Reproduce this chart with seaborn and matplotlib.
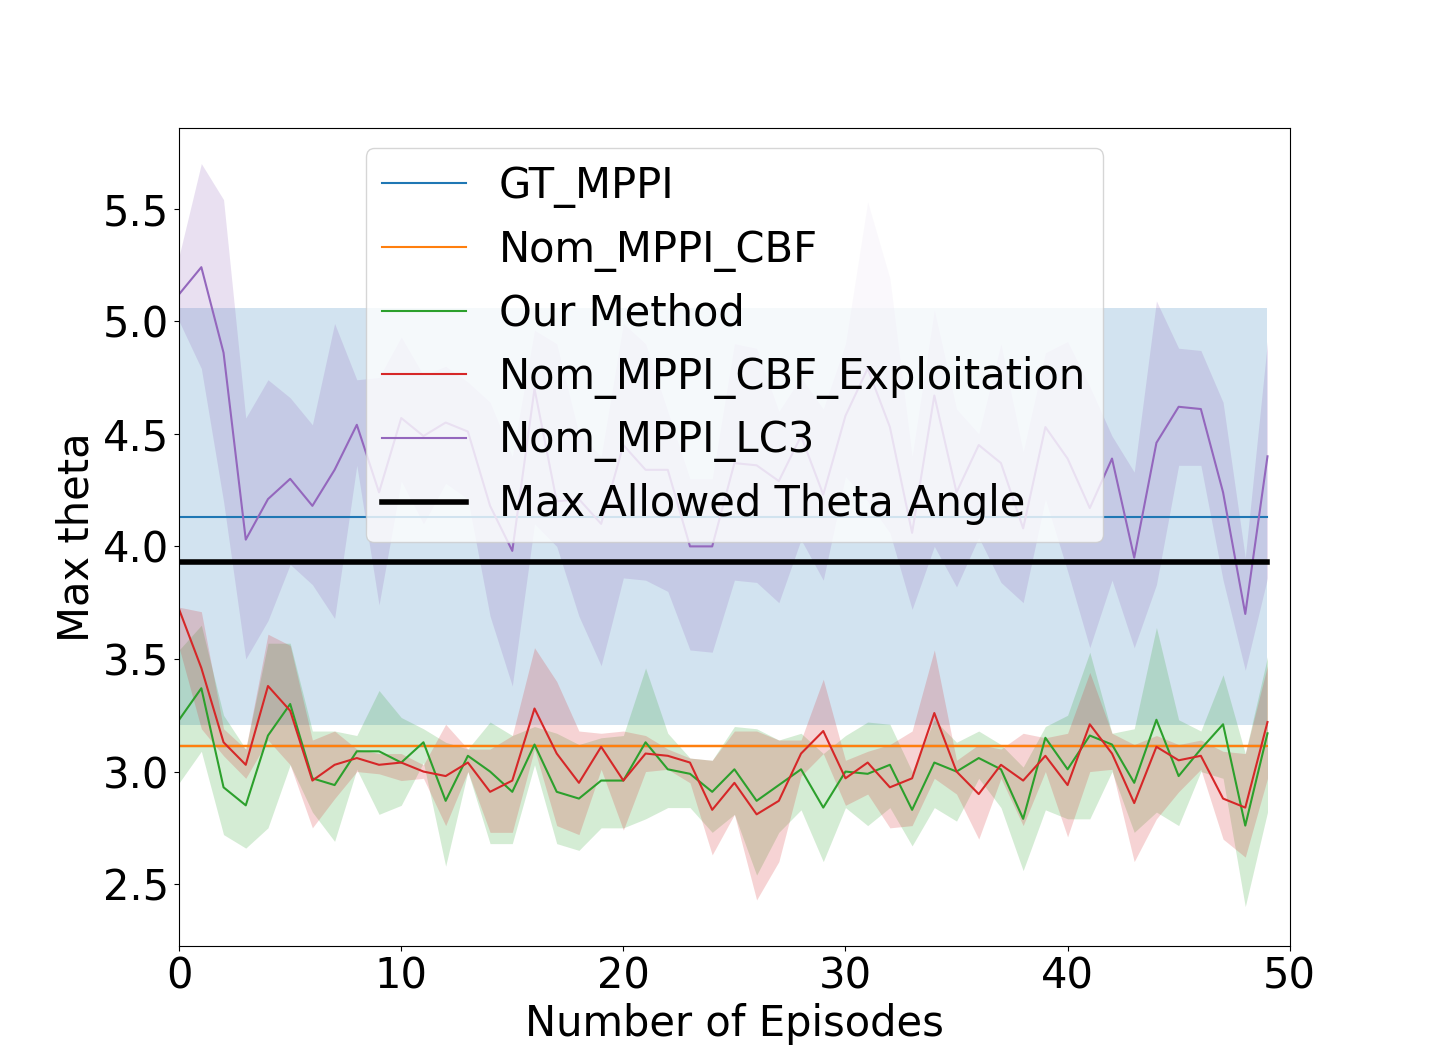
import numpy as np
import seaborn as sns
import matplotlib.pyplot as plt

episodes = np.arange(50)

# constant baselines
gt_mean, gt_low, gt_high = 4.131, 3.205, 5.057
cbf_mean, cbf_low, cbf_high = 3.113, 3.103, 3.123
max_theta = 3.932

ours = [3.23, 3.37, 2.93, 2.85, 3.16, 3.30, 2.97, 2.94, 3.09, 3.09,
        3.04, 3.13, 2.87, 3.07, 3.00, 2.91, 3.12, 2.91, 2.88, 2.96,
        2.96, 3.13, 3.01, 2.99, 2.91, 3.01, 2.87, 2.94, 3.01, 2.84,
        3.00, 2.99, 3.03, 2.83, 3.04, 3.00, 3.06, 3.01, 2.79, 3.15,
        3.01, 3.16, 3.12, 2.95, 3.23, 2.98, 3.10, 3.21, 2.76, 3.17]
ours_hi = [3.54, 3.65, 3.25, 3.10, 3.57, 3.57, 3.18, 3.18, 3.16, 3.36,
           3.24, 3.19, 3.13, 3.10, 3.22, 3.16, 3.20, 3.17, 3.12, 3.15,
           3.16, 3.46, 3.17, 3.06, 3.05, 3.20, 3.19, 3.14, 3.17, 3.08,
           3.16, 3.22, 3.21, 3.00, 3.23, 3.13, 3.18, 3.12, 3.02, 3.20,
           3.25, 3.53, 3.17, 3.19, 3.64, 3.23, 3.18, 3.43, 3.08, 3.51]
ours_lo = [2.95, 3.09, 2.72, 2.66, 2.75, 3.03, 2.82, 2.69, 3.01, 2.81,
           2.85, 3.04, 2.58, 3.00, 2.68, 2.68, 3.03, 2.68, 2.65, 2.75,
           2.75, 2.79, 2.84, 2.84, 2.73, 2.81, 2.54, 2.73, 2.83, 2.60,
           2.84, 2.76, 2.84, 2.67, 2.84, 2.78, 2.97, 2.84, 2.56, 2.83,
           2.79, 2.79, 3.00, 2.73, 2.82, 2.76, 3.00, 2.97, 2.40, 2.82]

expl = [3.72, 3.46, 3.13, 3.03, 3.38, 3.27, 2.96, 3.03, 3.06, 3.03,
        3.04, 3.00, 2.98, 3.04, 2.91, 2.96, 3.28, 3.08, 2.95, 3.11,
        2.96, 3.08, 3.07, 3.04, 2.83, 2.95, 2.81, 2.87, 3.08, 3.18,
        2.97, 3.04, 2.93, 2.97, 3.26, 3.00, 2.90, 3.03, 2.96, 3.07,
        2.94, 3.21, 3.08, 2.86, 3.11, 3.05, 3.07, 2.88, 2.84, 3.22]
expl_hi = [3.73, 3.71, 3.19, 3.10, 3.61, 3.56, 3.14, 3.18, 3.10, 3.08,
           3.08, 3.03, 3.21, 3.10, 3.10, 3.16, 3.55, 3.40, 3.18, 3.17,
           3.18, 3.16, 3.10, 3.06, 3.05, 3.18, 3.18, 3.14, 3.14, 3.41,
           3.05, 3.09, 3.12, 3.18, 3.54, 3.05, 3.12, 3.10, 3.17, 3.15,
           3.17, 3.44, 3.17, 3.12, 3.16, 3.12, 3.14, 3.09, 3.08, 3.47]
expl_lo = [3.55, 3.19, 3.07, 2.97, 3.14, 3.03, 2.75, 2.88, 3.00, 2.99,
           2.96, 2.97, 2.76, 3.00, 2.73, 2.73, 3.10, 2.76, 2.72, 3.01,
           2.74, 3.00, 3.01, 2.95, 2.63, 2.81, 2.43, 2.60, 2.98, 3.08,
           2.85, 2.90, 2.75, 2.76, 2.97, 2.90, 2.70, 2.97, 2.76, 3.00,
           2.71, 3.00, 3.01, 2.60, 2.79, 2.91, 3.01, 2.70, 2.62, 2.97]

lc3 = [5.12, 5.24, 4.86, 4.03, 4.21, 4.30, 4.18, 4.34, 4.54, 4.24,
       4.57, 4.49, 4.55, 4.51, 4.18, 3.98, 4.70, 4.20, 4.21, 4.10,
       4.45, 4.34, 4.34, 4.00, 4.00, 4.37, 4.36, 4.29, 4.49, 4.23,
       4.58, 4.79, 4.53, 4.06, 4.67, 4.24, 4.45, 4.37, 4.08, 4.53,
       4.39, 4.17, 4.39, 3.95, 4.46, 4.62, 4.61, 4.24, 3.70, 4.40]
lc3_hi = [5.29, 5.70, 5.54, 4.57, 4.74, 4.66, 4.54, 4.99, 4.74, 4.75,
          4.93, 4.76, 4.80, 4.73, 4.64, 4.40, 4.96, 4.90, 4.50, 4.40,
          4.99, 4.90, 4.60, 4.30, 4.30, 4.90, 4.88, 4.60, 4.75, 4.61,
          4.90, 5.53, 5.19, 4.40, 5.05, 4.61, 4.50, 4.90, 4.42, 4.86,
          4.91, 4.71, 4.49, 4.33, 5.09, 4.88, 4.87, 4.64, 3.95, 4.91]
lc3_lo = [5.00, 4.79, 4.20, 3.50, 3.67, 3.92, 3.83, 3.68, 4.36, 3.74,
          4.29, 4.10, 4.28, 4.21, 3.69, 3.38, 4.10, 4.00, 3.69, 3.47,
          3.86, 3.85, 3.80, 3.54, 3.53, 3.85, 3.84, 3.75, 4.03, 3.85,
          4.31, 4.20, 4.06, 3.72, 4.00, 3.82, 4.04, 3.84, 3.75, 4.21,
          3.89, 3.55, 3.85, 3.55, 3.83, 4.36, 4.36, 3.85, 3.45, 3.86]

plt.rcParams['font.size'] = 30
fig, ax = plt.subplots(figsize=(14.33, 10.63), dpi=100)

n = len(episodes)
series = [
    ("GT_MPPI", np.full(n, gt_mean), np.full(n, gt_low), np.full(n, gt_high), "tab:blue"),
    ("Nom_MPPI_CBF", np.full(n, cbf_mean), np.full(n, cbf_low), np.full(n, cbf_high), "tab:orange"),
    ("Our Method", ours, ours_lo, ours_hi, "tab:green"),
    ("Nom_MPPI_CBF_Exploitation", expl, expl_lo, expl_hi, "tab:red"),
    ("Nom_MPPI_LC3", lc3, lc3_lo, lc3_hi, "tab:purple"),
]
for name, mean, lo, hi, col in series:
    sns.lineplot(x=episodes, y=mean, color=col, label=name, linewidth=1.5, ax=ax)
    ax.fill_between(episodes, lo, hi, color=col, alpha=0.2, linewidth=0)

sns.lineplot(x=episodes, y=np.full(n, max_theta), color="black", linewidth=4,
             label="Max Allowed Theta Angle", ax=ax)

ax.set_xlim(0, 50)
ax.set_ylim(2.225, 5.86)
ax.set_xlabel("Number of Episodes")
ax.set_ylabel("Max theta")
ax.legend(loc="upper center")

plt.savefig("out.png")
